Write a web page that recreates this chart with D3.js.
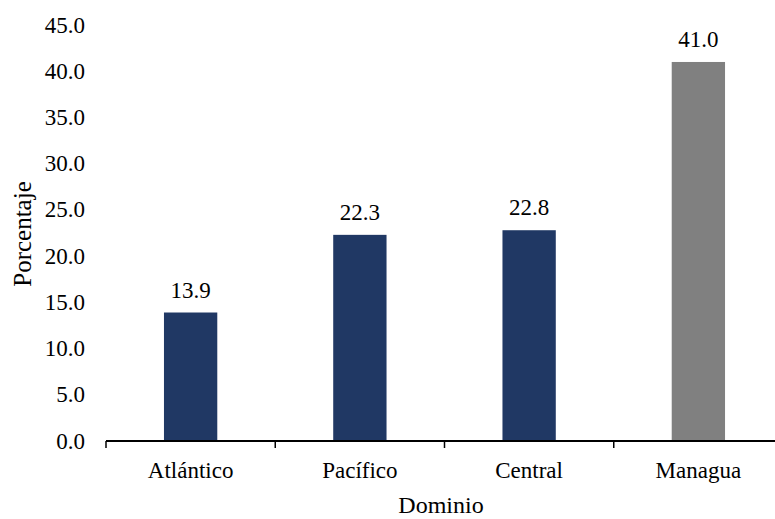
<!DOCTYPE html>
<html><head><meta charset="utf-8">
<script src="https://cdn.jsdelivr.net/npm/d3@7"></script>
<style>body{margin:0;background:#fff}svg{display:block}</style>
</head><body><svg id="c" width="775" height="519"></svg>
<script>
const categories = ["Atlántico","Pacífico","Central","Managua"];
const values = [13.9,22.3,22.8,41.0];
const barColors = ["#203864","#203864","#203864","#808080"];
const yTicks = [0,5,10,15,20,25,30,35,40,45];

(function(){
const FONT = "'Liberation Serif', 'Times New Roman', Times, serif";
const svg = d3.select("#c").style("font-family", FONT);
const mLeft = 106, mRight = 783, mTop = 25, mBottom = 441;
const x = d3.scaleBand().domain(categories).range([mLeft,mRight]).paddingInner(0).paddingOuter(0);
const y = d3.scaleLinear().domain([0,45]).range([mBottom,mTop]);
const bw = x.bandwidth()*0.315;

svg.selectAll("rect.bar").data(categories).enter().append("rect")
  .attr("x", d => x(d) + x.bandwidth()/2 - bw/2)
  .attr("width", bw)
  .attr("y", (d,i) => y(values[i]))
  .attr("height", (d,i) => y(0) - y(values[i]))
  .attr("fill", (d,i) => barColors[i]);

svg.selectAll("text.val").data(categories).enter().append("text")
  .attr("font-family", FONT)
  .attr("x", d => x(d) + x.bandwidth()/2)
  .attr("y", (d,i) => y(values[i]) - 15)
  .attr("text-anchor","middle").attr("font-size","23px")
  .text((d,i) => values[i].toFixed(1));

svg.selectAll("text.yt").data(yTicks).enter().append("text")
  .attr("font-family", FONT)
  .attr("x", 85).attr("y", d => y(d)).attr("dy","0.33em")
  .attr("text-anchor","end").attr("font-size","23px")
  .text(d => d.toFixed(1));

svg.append("line").attr("x1",mLeft).attr("x2",mRight).attr("y1",mBottom).attr("y2",mBottom)
  .attr("stroke","#000").attr("stroke-width",2);
const bounds = categories.map(c => x(c)).concat([mRight]);
svg.selectAll("line.tk").data(bounds).enter().append("line")
  .attr("x1", d => d).attr("x2", d => d).attr("y1", mBottom).attr("y2", mBottom+7)
  .attr("stroke","#000").attr("stroke-width",1.5);

svg.selectAll("text.cat").data(categories).enter().append("text")
  .attr("font-family", FONT)
  .attr("x", d => x(d) + x.bandwidth()/2).attr("y", 478)
  .attr("text-anchor","middle").attr("font-size","23px").text(d => d);

svg.append("text").attr("font-family", FONT).attr("x", 441).attr("y", 513).attr("text-anchor","middle")
  .attr("font-size","24px").text("Dominio");
svg.append("text").attr("font-family", FONT).attr("transform","translate(31,234) rotate(-90)")
  .attr("text-anchor","middle").attr("font-size","25px").text("Porcentaje");
})();
</script></body></html>
